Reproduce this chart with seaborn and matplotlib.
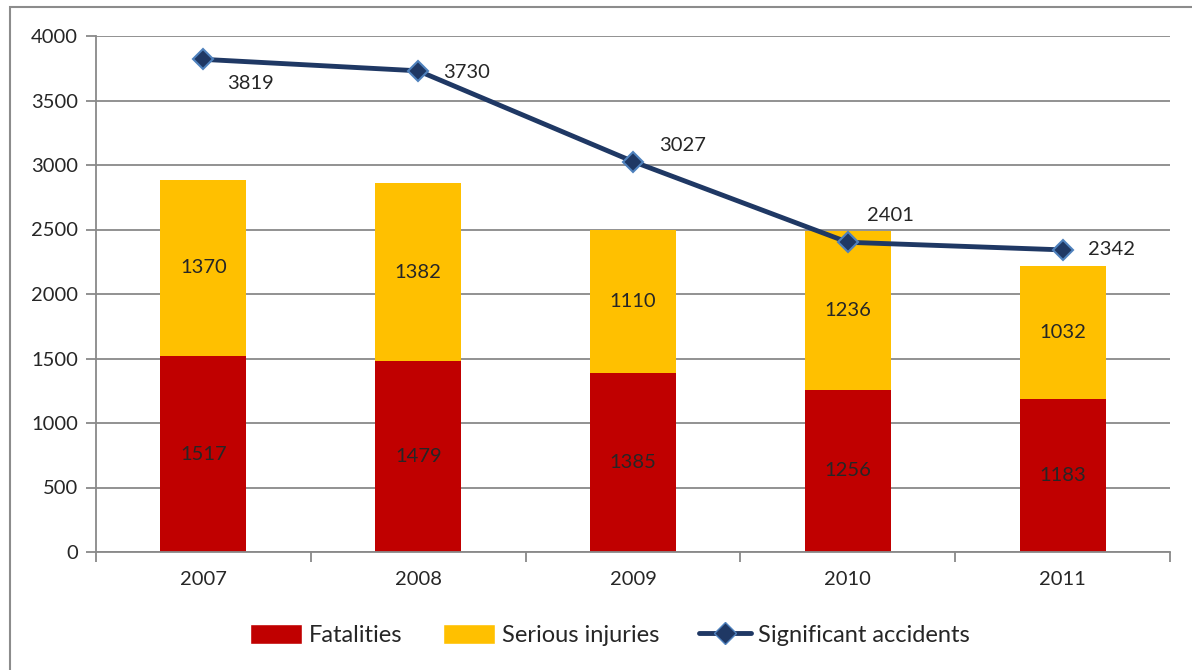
import matplotlib
matplotlib.use("Agg")
import matplotlib.pyplot as plt
import seaborn as sns
import numpy as np
from matplotlib.patches import Rectangle
from matplotlib.lines import Line2D
from matplotlib.patches import Patch

years = ["2007", "2008", "2009", "2010", "2011"]
fatalities = [1517, 1479, 1385, 1256, 1183]
serious_injuries = [1370, 1382, 1110, 1236, 1032]
significant_accidents = [3819, 3730, 3027, 2401, 2342]

RED = "#C00000"
YELLOW = "#FFC000"
NAVY = "#1F3864"
EDGE_BLUE = "#4F81BD"
GRID = "#898989"

sns.set_theme(style="white")
plt.rcParams["font.family"] = ["Lato", "DejaVu Sans"]

totals = [f + s for f, s in zip(fatalities, serious_injuries)]
pos = np.arange(len(years))

fig = plt.figure(figsize=(11.92, 6.70), dpi=100)
ax = fig.add_axes([96 / 1192, 1 - 552 / 670, (1170 - 96) / 1192, (552 - 36) / 670])

# outer chart frame
fig.patches.append(Rectangle((10 / 1192, -0.1), 1.2, 1 - 7 / 670 + 0.1,
                             transform=fig.transFigure, fill=False,
                             edgecolor="#8c8c8c", linewidth=1.5))

# stacked bars: totals first, fatalities on top
sns.barplot(x=years, y=totals, color=YELLOW, width=0.4, saturation=1, linewidth=0, ax=ax)
sns.barplot(x=years, y=fatalities, color=RED, width=0.4, saturation=1, linewidth=0, ax=ax)

sns.lineplot(x=pos, y=significant_accidents, color=NAVY, linewidth=3.5,
             marker="D", markersize=10, markerfacecolor=NAVY,
             markeredgecolor=EDGE_BLUE, markeredgewidth=1.5, ax=ax, zorder=5)

# segment labels
for i in pos:
    ax.text(i, fatalities[i] / 2, str(fatalities[i]), ha="center", va="center", fontsize=14.5)
    ax.text(i, fatalities[i] + serious_injuries[i] / 2, str(serious_injuries[i]),
            ha="center", va="center", fontsize=14.5)

# line labels
offsets = [(0.11, -190), (0.115, -10), (0.12, 128), (0.09, 211), (0.12, 0)]
for i, (dx, dy) in enumerate(offsets):
    ax.text(pos[i] + dx, significant_accidents[i] + dy, str(significant_accidents[i]),
            ha="left", va="center", fontsize=14.5)

ax.set_ylim(0, 4000)
ax.set_xlim(-0.5, 4.5)
ax.set_yticks(np.arange(0, 4001, 500))
ax.yaxis.grid(True, color=GRID, linewidth=1.3)
ax.set_axisbelow(True)
for side in ["top", "right"]:
    ax.spines[side].set_visible(False)
for side in ["left", "bottom"]:
    ax.spines[side].set_color(GRID)
    ax.spines[side].set_linewidth(1.3)

ax.set_xticks(np.arange(-0.5, 4.6, 1), minor=True)
ax.tick_params(axis="x", which="major", length=0, labelsize=14.5, pad=14)
ax.tick_params(axis="x", which="minor", length=7, color=GRID, width=1.3, direction="out", bottom=True)
ax.tick_params(axis="y", length=7, color=GRID, width=1.3, direction="out", left=True, labelsize=14.5, pad=6)
ax.set_xlabel("")
ax.set_ylabel("")

handles = [
    Patch(facecolor=RED, label="Fatalities"),
    Patch(facecolor=YELLOW, label="Serious injuries"),
    Line2D([0], [0], color=NAVY, linewidth=3.5, marker="D", markersize=11,
           markerfacecolor=NAVY, markeredgecolor=EDGE_BLUE, label="Significant accidents"),
]
fig.legend(handles=handles, loc="center", bbox_to_anchor=(610 / 1192, 1 - 635 / 670),
           ncol=3, frameon=False, fontsize=17, handlelength=2.2, handleheight=0.9,
           columnspacing=1.7, handletextpad=0.3)

fig.savefig("out.png", dpi=100)
